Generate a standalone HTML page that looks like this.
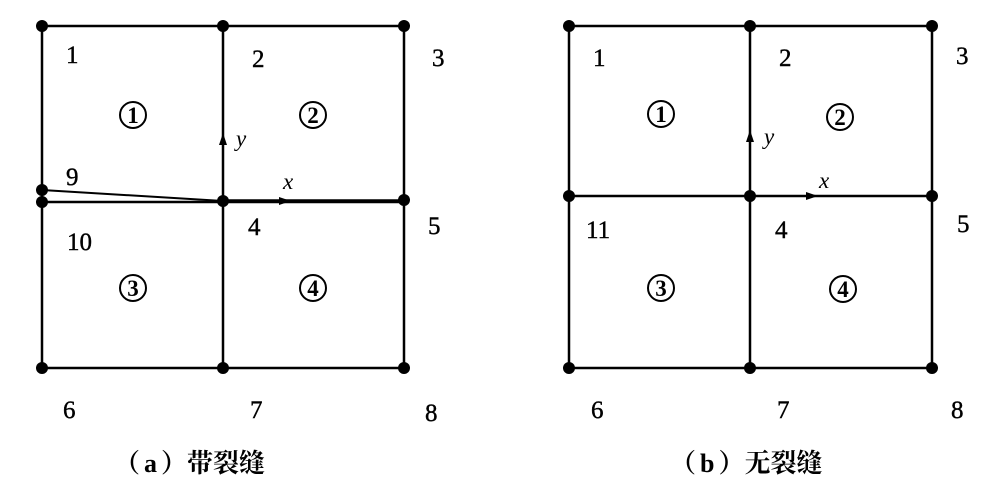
<!DOCTYPE html>
<html><head><meta charset="utf-8"><style>body{margin:0;background:#fff}svg{display:block}</style></head>
<body>
<svg width="996" height="498" viewBox="0 0 996 498" xmlns="http://www.w3.org/2000/svg" font-family="Liberation Serif, serif" fill="#000">
<g stroke="#000" stroke-width="2.5" fill="none">
<path d="M42 26H404V368H42Z M42 26V190 M223 26V368 M42 202H404"/>
<path d="M42 190L223 201" stroke-width="2"/>
<path d="M223 201H404" stroke-width="3.5"/>
<path d="M569 26H932V368H569Z M750 26V368 M569 196H932"/>
</g>
<g>
<circle cx="42" cy="26" r="6"/><circle cx="223" cy="26" r="6"/><circle cx="404" cy="26" r="6"/>
<circle cx="42" cy="190" r="6"/><circle cx="42" cy="202" r="6"/><circle cx="223" cy="201" r="6"/><circle cx="404" cy="200" r="6"/>
<circle cx="42" cy="368" r="6"/><circle cx="223" cy="368" r="6"/><circle cx="404" cy="368" r="6"/>
<circle cx="569" cy="26" r="6"/><circle cx="750" cy="26" r="6"/><circle cx="932" cy="26" r="6"/>
<circle cx="569" cy="196" r="6"/><circle cx="750" cy="196" r="6"/><circle cx="932" cy="196" r="6"/>
<circle cx="569" cy="368" r="6"/><circle cx="750" cy="368" r="6"/><circle cx="932" cy="368" r="6"/>
<path d="M223 133L219 145H227Z"/><path d="M291 201L279 197V205Z"/>
<path d="M750 130L746 142H754Z"/><path d="M818 196L806 192V200Z"/>
</g>
<g font-size="25" stroke="#000" stroke-width="0.4">
<text x="66" y="63">1</text><text x="252" y="67">2</text><text x="432" y="66">3</text>
<text x="66" y="185">9</text><text x="67" y="250">10</text><text x="248" y="235">4</text><text x="428" y="234">5</text>
<text x="63" y="418">6</text><text x="250" y="418">7</text><text x="425" y="421">8</text>
<text x="593" y="66">1</text><text x="779" y="66">2</text><text x="956" y="64">3</text>
<text x="586" y="238">11</text><text x="775" y="238">4</text><text x="957" y="232">5</text>
<text x="591" y="418">6</text><text x="777" y="418">7</text><text x="951" y="418">8</text>
<g font-style="italic" font-size="23" stroke-width="0">
<text x="236" y="146">y</text><text x="283" y="189">x</text>
<text x="764" y="144">y</text><text x="819" y="188">x</text>
</g>
</g>
<g font-size="23" text-anchor="middle" font-weight="bold">
<g fill="none" stroke="#000" stroke-width="2">
<circle cx="133" cy="115" r="13"/><circle cx="313" cy="115" r="13"/><circle cx="133" cy="288" r="13"/><circle cx="313" cy="288" r="13"/>
<circle cx="661" cy="114" r="13"/><circle cx="840" cy="117" r="13"/><circle cx="661" cy="288" r="13"/><circle cx="843" cy="289" r="13"/>
</g>
<text x="133" y="123">1</text><text x="313" y="123">2</text><text x="133" y="296">3</text><text x="313" y="296">4</text>
<text x="661" y="122">1</text><text x="840" y="125">2</text><text x="661" y="296">3</text><text x="843" y="297">4</text>
</g>
<g font-size="26" font-weight="bold" font-family="Liberation Serif, 'Noto Serif CJK SC', serif">
<text x="114" y="472">（<tspan dx="4">a</tspan><tspan dx="4">）</tspan>带裂缝</text>
<text x="670" y="472">（<tspan dx="4">b</tspan><tspan dx="4">）</tspan>无裂缝</text>
</g>
</svg>
</body></html>
